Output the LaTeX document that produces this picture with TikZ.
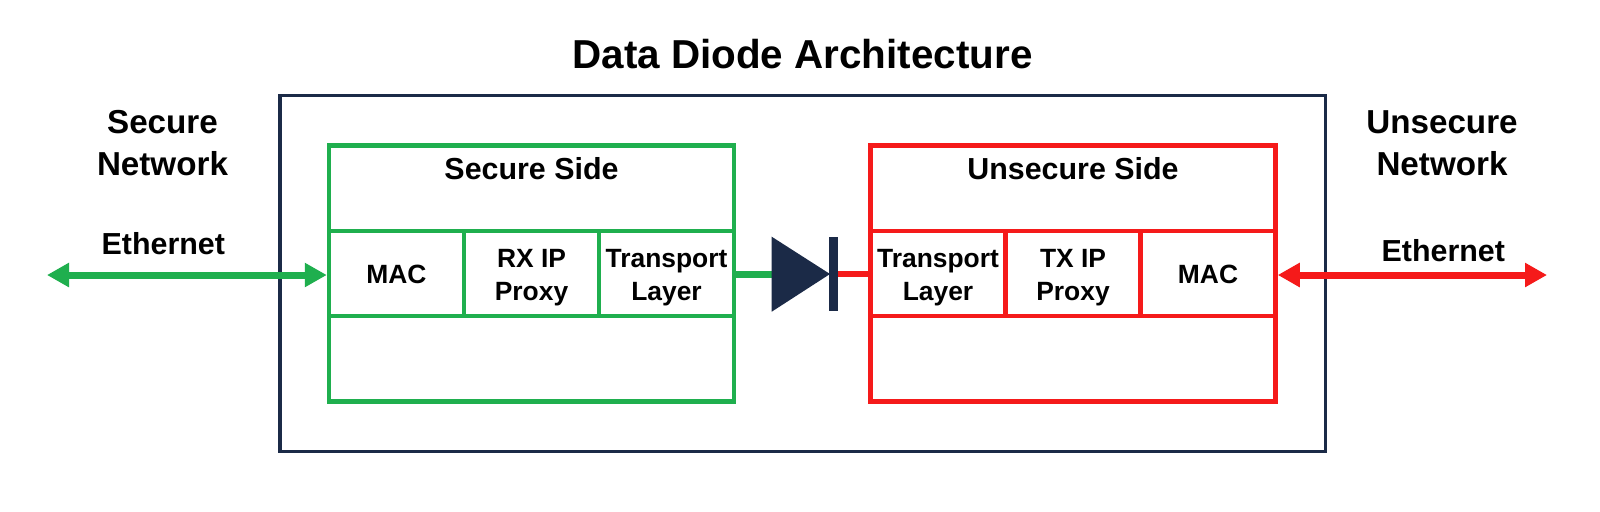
\documentclass[tikz,border=0pt]{standalone}
\usepackage{fontspec}
\setmainfont{Liberation Sans}
\usetikzlibrary{arrows.meta}
\definecolor{navy}{HTML}{1B2A47}
\definecolor{sgreen}{HTML}{1FAF4E}
\definecolor{ured}{HTML}{F51A1A}
\begin{document}
\begin{tikzpicture}[x=0.5pt,y=-0.5pt,
  txt/.style={inner sep=0pt, outer sep=0pt, font=\bfseries, align=center},
  celltxt/.style={txt, font=\fontsize{13.2}{16.5}\selectfont\bfseries},
  gbox/.style={draw=sgreen, line width=2.25pt, inner sep=0pt},
  rbox/.style={draw=ured, line width=2.25pt, inner sep=0pt},
  band/.style={minimum width=202.5pt, minimum height=42.625pt},
  cellbox/.style={minimum width=67.5pt, minimum height=42.625pt},
  garrow/.style={draw=sgreen, line width=3.5pt, {Triangle[length=11pt,width=11.5pt]}-{Triangle[length=11pt,width=11.5pt]}},
  rarrow/.style={draw=ured, line width=3.5pt, {Triangle[length=11pt,width=11.5pt]}-{Triangle[length=11pt,width=11.5pt]}},
  ]
\useasboundingbox (0,0) rectangle (1600,511);
\fill[white] (0,0) rectangle (1600,511);

% outer box
\node[draw=navy, line width=1.75pt, minimum width=522.75pt, minimum height=178pt, inner sep=0pt] (outer) at (802.75,273.5) {};

% title
\node[txt, anchor=base, font=\fontsize{20.2}{24}\selectfont\bfseries] (title) at (802.5,68) {Data Diode Architecture};

% secure side
\node[gbox, band] (sectop) at (531.5,188.125) {};
\node[gbox, cellbox] (secmac) at (396.5,273.375) {};
\node[gbox, cellbox] (secrx) at (531.5,273.375) {};
\node[gbox, cellbox] (sectr) at (666.5,273.375) {};
\node[gbox, band] (secbot) at (531.5,358.625) {};

\node[txt, anchor=base, font=\fontsize{15.2}{18}\selectfont\bfseries] (secsidetxt) at (531.5,179.5) {Secure Side};
\node[celltxt, yshift=-0.5pt] (secmactxt) at (secmac.center) {MAC};
\node[celltxt, yshift=-2pt] (secrxtxt) at (secrx.center) {RX IP\\Proxy};
\node[celltxt, yshift=-2pt] (sectrtxt) at (sectr.center) {Transport\\Layer};

% unsecure side
\node[rbox, band] (untop) at (1073,188.125) {};
\node[rbox, cellbox] (untr) at (938,273.375) {};
\node[rbox, cellbox] (untx) at (1073,273.375) {};
\node[rbox, cellbox] (unmac) at (1208,273.375) {};
\node[rbox, band] (unbot) at (1073,358.625) {};

\node[txt, anchor=base, font=\fontsize{15.2}{18}\selectfont\bfseries] (unsidetxt) at (1073,179.5) {Unsecure Side};
\node[celltxt, yshift=-2pt] (untrtxt) at (untr.center) {Transport\\Layer};
\node[celltxt, yshift=-2pt] (untxtxt) at (untx.center) {TX IP\\Proxy};
\node[celltxt, yshift=-0.5pt] (unmactxt) at (unmac.center) {MAC};

% network labels
\node[txt, anchor=base, font=\fontsize{16.6}{20.85}\selectfont\bfseries] (secnet) at (162.5,175.5) {Secure\\Network};
\node[txt, anchor=base, font=\fontsize{16.6}{20.85}\selectfont\bfseries] (unnet) at (1442,175.5) {Unsecure\\Network};
\node[txt, anchor=base, font=\fontsize{15.2}{18}\selectfont\bfseries] (ethl) at (163.3,254.5) {Ethernet};
\node[txt, anchor=base, font=\fontsize{15.2}{18}\selectfont\bfseries] (ethr) at (1443.3,261) {Ethernet};

% ethernet arrows
\coordinate (lend) at (47,275);
\coordinate (rend) at (1547,275);
\draw[garrow] (lend) -- (lend -| secmac.west);
\draw[rarrow] (rend -| unmac.east) -- (rend);

% diode
\coordinate (dleft) at (771.7,274);
\coordinate (dapex) at (830,274);
\coordinate (dright) at (838,274);
\draw[sgreen, line width=3.5pt] (sectr.east |- dleft) -- (dleft);
\draw[ured, line width=3.25pt] (dright) -- (untr.west |- dright);
\fill[navy] (771.7,236.7) -- (dapex) -- (771.7,311.7) -- cycle;
\fill[navy] (829,237) rectangle (838,311);
\end{tikzpicture}
\end{document}
